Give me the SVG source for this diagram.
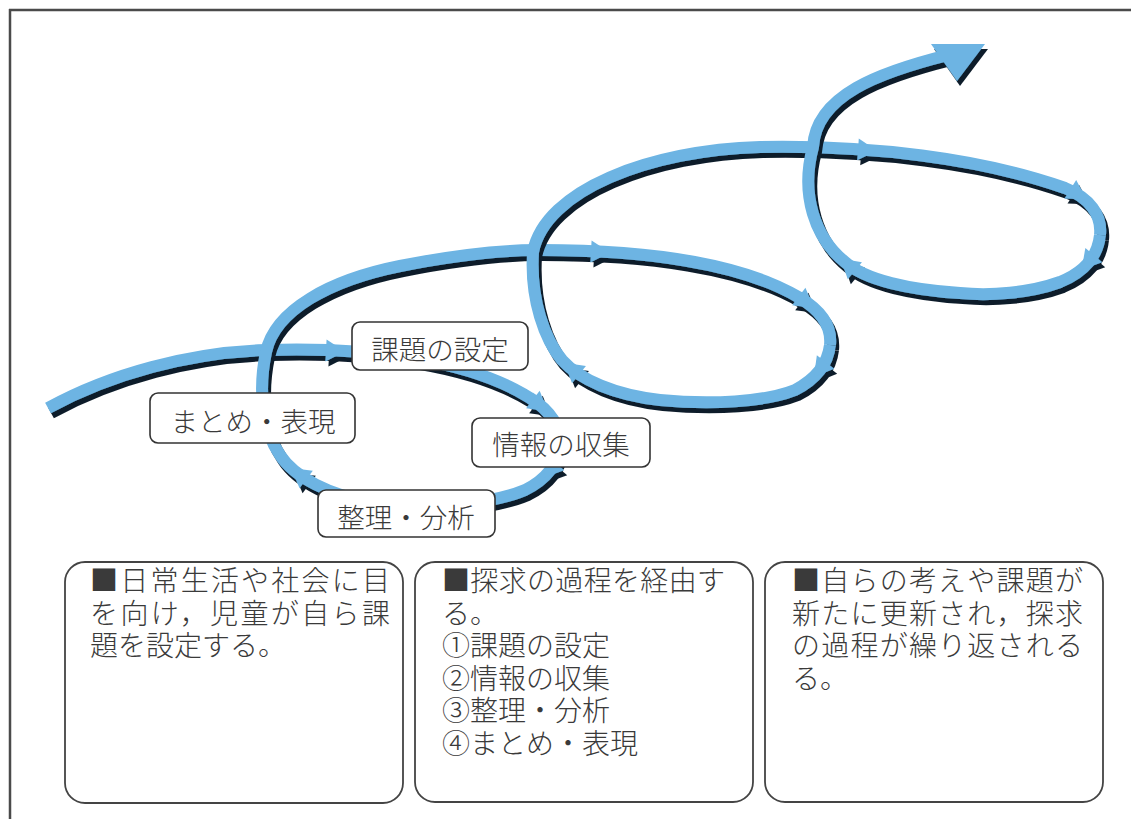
<svg xmlns="http://www.w3.org/2000/svg" width="1131" height="819" viewBox="0 0 1131 819">
<defs>
<style>
.frame{stroke:#4a4a4a;stroke-width:2.5;fill:none}
.rib{fill:none;stroke:#6db4e3;stroke-width:12;stroke-linecap:butt;stroke-linejoin:round}
.blue{fill:#6db4e3}
.lbl rect{fill:#fff;stroke:#333;stroke-width:1.6}
.lbl text{font-family:"Noto Sans CJK JP",sans-serif;font-size:27.5px;font-weight:300;fill:#3a3a3a;text-anchor:middle}
.note rect{fill:#fff;stroke:#444;stroke-width:1.8}
.note text{font-family:"Noto Sans CJK JP",sans-serif;font-size:28px;font-weight:300;fill:#3a3a3a}
</style>
<filter id="sh" x="-10%" y="-10%" width="130%" height="130%">
<feDropShadow dx="3" dy="5" stdDeviation="0.6" flood-color="#0d1b2c" flood-opacity="1"/>
</filter>
<polygon id="barb" points="-9,-11 10,0 -9,11"/>
</defs>
<rect width="1131" height="819" fill="#fff"/>
<g id="frame">
<line class="frame" x1="9" y1="10" x2="1131" y2="10"/>
<line class="frame" x1="10" y1="9" x2="10" y2="819"/>
</g>
<g id="connectors">
<g id="segA" filter="url(#sh)">
<path class="rib" d="M48,408 C110,374 190,352 268,350 C370,347 470,360 530,398 C550,410 562,428 560,445"/>
<use href="#barb" class="blue" transform="translate(335,351) rotate(3)"/>
<use href="#barb" class="blue" transform="translate(540,405) rotate(38)"/>
</g>
<g id="segB" filter="url(#sh)">
<path class="rib" d="M560,445 C558,465 545,480 525,490 C490,505 420,510 370,502 C330,495 295,478 280,455 C262,430 258,390 266,352 C275,310 330,280 400,266 C450,256 500,250 540,250 C640,250 740,262 800,298 C820,310 832,325 830,345"/>
<use href="#barb" class="blue" transform="translate(550,470) rotate(130)"/>
<use href="#barb" class="blue" transform="translate(299,474) rotate(217)"/>
<use href="#barb" class="blue" transform="translate(600,252) rotate(3)"/>
<use href="#barb" class="blue" transform="translate(806,302) rotate(37)"/>
</g>
<g id="segC" filter="url(#sh)">
<path class="rib" d="M830,345 C828,362 818,378 795,390 C765,402 710,405 660,400 C615,395 580,380 562,360 C545,340 530,300 533,252 C545,190 650,150 760,147 C870,145 980,158 1065,188 C1090,198 1102,215 1100,235"/>
<use href="#barb" class="blue" transform="translate(820,369) rotate(128)"/>
<use href="#barb" class="blue" transform="translate(572,369) rotate(219)"/>
<use href="#barb" class="blue" transform="translate(867,150) rotate(4)"/>
<use href="#barb" class="blue" transform="translate(1078,194) rotate(32)"/>
</g>
<g id="segD" filter="url(#sh)">
<path class="rib" d="M1100,235 C1098,255 1085,272 1060,282 C1030,293 990,296 960,293 C910,290 865,280 845,262 C815,238 800,195 813,147 C816,95 880,72 948,55"/>
<use href="#barb" class="blue" transform="translate(1088,262) rotate(130)"/>
<use href="#barb" class="blue" transform="translate(848,265) rotate(220)"/>
<polygon class="blue" points="931,44 985,44 957,81"/>
</g>
</g>
<g id="label-kadai" class="lbl">
<rect x="352" y="322" width="176" height="48" rx="8"/>
<text x="440" y="360">課題の設定</text>
</g>
<g id="label-matome" class="lbl">
<rect x="150" y="393" width="205" height="50" rx="8"/>
<text x="253" y="432">まとめ・表現</text>
</g>
<g id="label-joho" class="lbl">
<rect x="472" y="418" width="178" height="49" rx="8"/>
<text x="561" y="455">情報の収集</text>
</g>
<g id="label-seiri" class="lbl">
<rect x="318" y="490" width="177" height="47" rx="8"/>
<text x="406" y="528">整理・分析</text>
</g>
<g id="note1" class="note">
<rect x="65" y="562" width="338" height="241" rx="20"/>
<text x="90" y="591"><tspan x="90" y="591" textLength="300" lengthAdjust="spacing">■日常生活や社会に目</tspan><tspan x="90" y="623.5" textLength="300" lengthAdjust="spacing">を向け，児童が自ら課</tspan><tspan x="90" y="656">題を設定する。</tspan></text>
</g>
<g id="note2" class="note">
<rect x="415" y="562" width="338" height="240" rx="20"/>
<text x="442" y="591"><tspan x="442" y="591" textLength="283" lengthAdjust="spacing">■探求の過程を経由す</tspan><tspan x="442" y="623.5">る。</tspan><tspan x="442" y="656">①課題の設定</tspan><tspan x="442" y="688.5">②情報の収集</tspan><tspan x="442" y="721">③整理・分析</tspan><tspan x="442" y="753.5">④まとめ・表現</tspan></text>
</g>
<g id="note3" class="note">
<rect x="765" y="562" width="338" height="240" rx="20"/>
<text x="792" y="591"><tspan x="792" y="591" textLength="291" lengthAdjust="spacing">■自らの考えや課題が</tspan><tspan x="792" y="623.5" textLength="291" lengthAdjust="spacing">新たに更新され，探求</tspan><tspan x="792" y="656" textLength="291" lengthAdjust="spacing">の過程が繰り返される</tspan><tspan x="792" y="688.5">る。</tspan></text>
</g>
</svg>
